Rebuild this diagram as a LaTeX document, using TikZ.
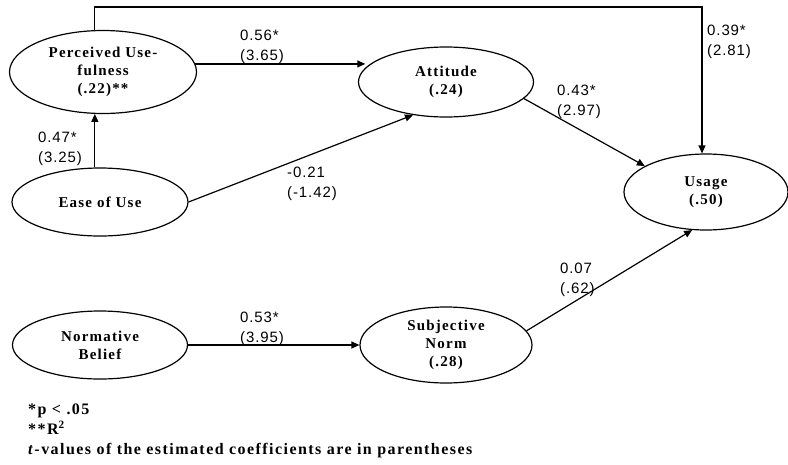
\documentclass[tikz,border=0pt]{standalone}
\usepackage{fontspec}
\setmainfont{Liberation Serif}
\newfontfamily\constructfont[LetterSpace=8]{Liberation Serif}
\newfontfamily\notefont[LetterSpace=9]{Liberation Serif}
\newfontfamily\coeffont[LetterSpace=6]{Liberation Sans}
\usetikzlibrary{arrows.meta,shapes.geometric}

\tikzset{
  construct/.style={ellipse, draw, line width=1.2pt, inner sep=0pt, align=center,
    font=\constructfont\bfseries\fontsize{15}{18}\selectfont},
  coef/.style={anchor=north west, align=left, inner sep=0pt,
    font=\coeffont\fontsize{15}{20}\selectfont},
  path/.style={->, line width=1.2pt}
}

\begin{document}
\begin{tikzpicture}[x=1pt,y=-1pt,>={Triangle[length=8pt,width=7pt]}]
\useasboundingbox (0,0) rectangle (788,464);

\node[construct, minimum width=187pt, minimum height=83pt] (pu)    at (103,72)  {Perceived Use-\\fulness\\(.22)**};
\node[construct, minimum width=176pt, minimum height=68pt] (ease)  at (100,202) {Ease of Use};
\node[construct, minimum width=175pt, minimum height=70pt] (att)   at (446,82)  {Attitude\\(.24)};
\node[construct, minimum width=164pt, minimum height=76pt] (usage) at (706,192) {Usage\\(.50)};
\node[construct, minimum width=175pt, minimum height=68pt] (norm)  at (100,345) {Normative\\Belief};
\node[construct, minimum width=172pt, minimum height=76pt] (sn)    at (446,345) {Subjective\\Norm\\(.28)};

\coordinate (corner) at (702,7);

\draw[path] (pu.101) |- (corner) -- (corner |- usage.north);
\path[path] (ease.north -| pu.101) edge (pu.259)
            (pu.5)                 edge (pu.5 -| att.170)
            (ease.east)            edge (att.225)
            (att.-12)              edge (usage.157)
            (norm.east)            edge (sn.west)
            (sn.10)                edge (usage.250);

\node[coef] (c56) at (240,30)  {0.56*\\(3.65)};
\node[coef] (c47) at (38,132)  {0.47*\\(3.25)};
\node[coef] (c21) at (287,167) {-0.21\\(-1.42)};
\node[coef] (c39) at (707,25)  {0.39*\\(2.81)};
\node[coef] (c43) at (557,85)  {0.43*\\(2.97)};
\node[coef] (c07) at (560,263) {0.07\\(.62)};
\node[coef] (c53) at (240,312) {0.53*\\(3.95)};

\node[anchor=north west, align=left, inner sep=0pt,
      font=\notefont\bfseries\fontsize{16}{20}\selectfont] (notes) at (28,404)
  {*p < .05\\**R\textsuperscript{2}\\\textit{t}-values of the estimated coefficients are in parentheses};
\end{tikzpicture}
\end{document}
